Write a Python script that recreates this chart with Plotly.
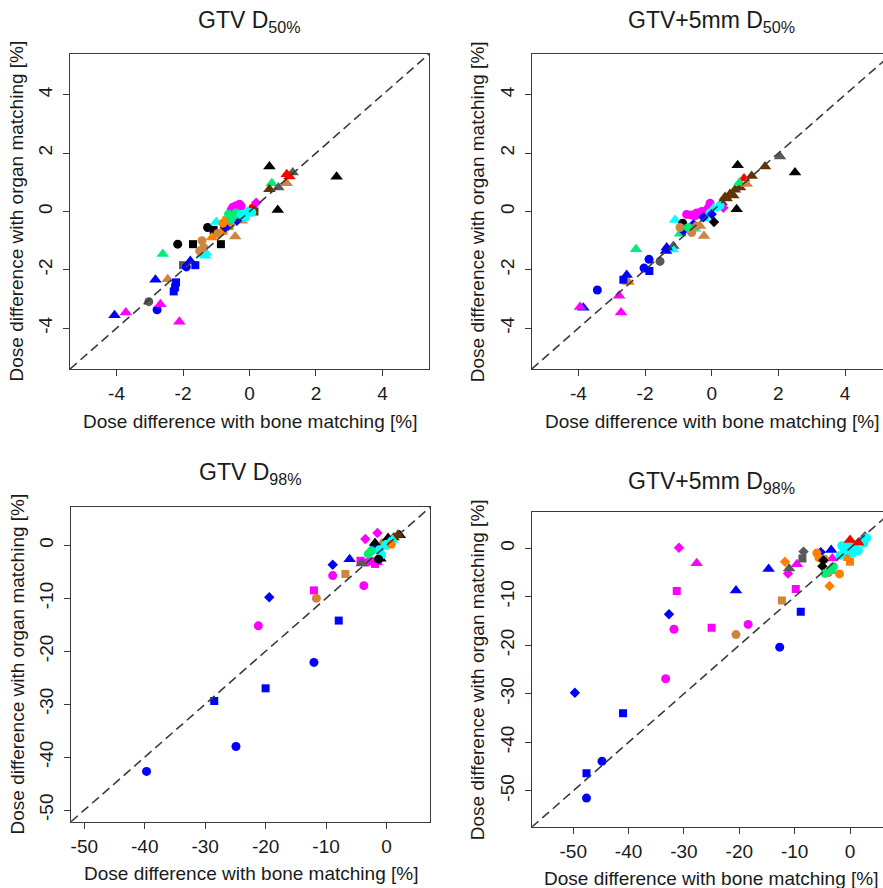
import plotly.graph_objects as go

# ---------------- data ----------------
# colour per patient group, marker per plan/session group
PATIENT_COLORS = ["#000000", "#0000FF", "#FF00FF", "#00FFFF", "#00EE76",
                  "#FF7F00", "#CD853F", "#595959", "#663300", "#FF0000"]
MARKERS = ["circle", "square", "diamond", "triangle-up"]

# Panel 1: GTV D50%
gtv50_bone = [0.6, 2.62, 0.85, 0.67, 0.6, 0.87, 1.12, 1.3, 1.12, 1.2, 0.1, 0.15,
              -2.61, -2.16, -1.7, -0.86, -1.26, -1.08, -2.0, -1.63, -1.78, -1.9,
              -2.83, -2.46, -2.21, -2.24, -2.28, -3.03, -2.68, -2.78, -4.06, -3.72, -2.11,
              -1.43, -1.33, -1.31, -1.43, -1.38, -1.5, -1.13, -0.78, -0.7, -0.43, -0.23,
              -0.95, -0.6, -1.0, -0.73, -0.38, -0.2,
              -0.55, -0.45, -0.4, -0.3, -0.25, -0.5, 0.2,
              -0.63, -0.48, -0.4, -0.55, -0.35, -0.13, 0.07, -0.25, -0.05, -0.8]
gtv50_organ = [1.54, 1.19, 0.05, 0.97, 0.76, 0.82, 0.97, 1.34, 1.28, 1.2, 0.12, 0.0,
               -1.46, -1.12, -1.12, -1.12, -0.55, -0.63, -1.84, -1.84, -1.7, -1.9,
               -2.34, -2.32, -2.43, -2.6, -2.74, -3.09, -3.18, -3.37, -3.56, -3.46, -3.78,
               -1.46, -1.52, -1.41, -1.0, -1.23, -1.35, -0.89, -0.66, -0.3, -0.86, -0.32,
               -0.75, -0.5, -0.36, -0.55, -0.32, -0.15,
               0.05, 0.1, 0.2, 0.25, 0.18, 0.15, 0.3,
               -0.09, -0.15, -0.05, -0.25, -0.1, -0.2, -0.03, -0.1, 0.0, -0.4]
gtv50_patient = [0, 0, 0, 4, 8, 7, 6, 7, 9, 9, 9, 8,
                 4, 0, 0, 0, 0, 0, 7, 1, 1, 1,
                 1, 6, 1, 1, 1, 7, 2, 1, 1, 2, 2,
                 3, 3, 3, 6, 6, 6, 5, 5, 5, 6, 6,
                 6, 6, 3, 1, 1, 1,
                 2, 2, 2, 2, 2, 2, 2,
                 4, 4, 4, 4, 4, 3, 3, 3, 3, 5]
gtv50_marker = [3, 3, 3, 3, 3, 3, 3, 3, 3, 3, 0, 1,
                3, 0, 1, 1, 0, 1, 1, 1, 3, 0,
                3, 3, 1, 1, 1, 0, 3, 0, 3, 3, 3,
                3, 3, 3, 0, 0, 0, 3, 1, 1, 3, 3,
                0, 1, 3, 2, 2, 2,
                0, 0, 0, 0, 0, 0, 2,
                0, 0, 0, 0, 1, 0, 0, 0, 2, 0]

# Panel 2: GTV+5mm D50%
ptv50_bone = [0.78, 0.75, 2.5, 1.6, 2.05, 0.97, 1.2, 0.83, 1.05,
              0.3, 0.45, 0.55, 0.65, 0.7, 0.85, 0.4,
              -0.75, -0.6, -0.45, -0.3, -0.15, -0.05, -0.1, -0.5, 0.35,
              0.25, -0.05, 0.05, 0.0, -0.55, -0.85, -0.25, 0.07,
              -1.1, -0.87, -0.95, -0.6, -0.45, -0.23, -0.35, -0.95, -0.7, -0.5, -0.2,
              -1.35, -1.15, -1.55, -1.17, -1.37, -2.27, -1.88, -2.03, -1.87, -2.55,
              -2.65, -2.5, -3.43, -2.78, -2.72, -3.95, -3.85]
ptv50_organ = [1.59, 0.08, 1.34, 1.54, 1.89, 1.13, 1.22, 0.99, 0.94,
               0.31, 0.45, 0.6, 0.55, 0.75, 0.82, 0.5,
               -0.1, -0.12, -0.05, 0.0, 0.05, 0.28, 0.12, -0.15, 0.13,
               0.2, -0.05, 0.1, -0.09, -0.44, -0.66, -0.2, -0.36,
               -0.29, -0.4, -0.55, -0.72, -0.5, -0.84, -0.5, -0.76, -0.55, -0.6, -0.25,
               -1.23, -1.18, -1.71, -1.3, -1.35, -1.29, -1.64, -1.94, -2.04, -2.18,
               -2.34, -2.42, -2.69, -2.89, -3.46, -3.27, -3.3]
ptv50_patient = [0, 0, 0, 8, 7, 9, 8, 4, 6,
                 8, 8, 8, 8, 8, 8, 8,
                 2, 2, 2, 2, 2, 2, 2, 2, 2,
                 3, 3, 3, 1, 1, 1, 1, 0,
                 3, 0, 6, 6, 6, 6, 6, 4, 4, 3, 3,
                 1, 7, 7, 3, 1, 4, 1, 1, 1, 1,
                 1, 6, 1, 2, 2, 2, 1]
ptv50_marker = [3, 3, 3, 3, 3, 3, 3, 3, 3,
                3, 3, 3, 3, 3, 3, 3,
                0, 0, 0, 0, 0, 0, 0, 0, 2,
                0, 0, 3, 2, 2, 2, 2, 2,
                3, 0, 0, 0, 0, 3, 3, 3, 0, 3, 3,
                3, 3, 0, 3, 3, 3, 0, 0, 1, 3,
                1, 3, 0, 3, 3, 3, 3]

# Panel 3: GTV D98%
gtv98_bone = [-39.7, -24.9, -12.0, -28.5, -20.0, -7.9, -21.2, -8.9, -3.75,
              -19.4, -8.9, -1.9, -12.0, -4.3, -3.5, -2.5, -1.9, -11.6, -6.8, -6.1,
              -3.5, -1.5, -2.8, -1.6, -1.9, 0.27, 2.2, -1.0, 1.9, 1.2,
              -1.5, -1.1, -0.5, 0.0, 0.5, -0.8, 1.0, -3.0, -2.5, -4.1, 0.8, -0.5, -1.3]
gtv98_organ = [-42.7, -38.0, -22.1, -29.4, -27.0, -14.2, -15.2, -5.7, -7.6,
               -9.8, -3.65, -0.3, -8.5, -2.9, -3.2, -3.0, -3.5, -10.0, -5.4, -2.6,
               1.2, 2.35, -3.0, -3.2, 0.45, 1.4, 1.9, -2.5, 2.02, 1.5,
               -1.0, -0.8, -0.3, 0.2, 0.6, -1.8, 1.0, -1.6, -1.0, -3.4, 0.2, 0.5, -2.6]
gtv98_patient = [1, 1, 1, 1, 1, 1, 2, 2, 2,
                 1, 1, 1, 2, 2, 2, 2, 2, 6, 6, 1,
                 2, 2, 2, 2, 0, 0, 0, 0, 8, 8,
                 3, 3, 3, 3, 3, 3, 3, 4, 4, 7, 5, 6, 0]
gtv98_marker = [0, 0, 0, 1, 1, 1, 0, 0, 0,
                2, 2, 2, 1, 1, 1, 1, 1, 0, 1, 3,
                2, 2, 3, 3, 3, 3, 3, 3, 3, 3,
                3, 0, 3, 0, 3, 0, 3, 0, 0, 3, 0, 0, 0]

# Panel 4: GTV+5mm D98%
ptv98_bone = [-49.7, -32.7, -5.3, -41.0, -47.6, -8.9, -44.8, -47.6, -12.7,
              -33.3, -31.8, -18.4, -31.3, -25.0, -9.8, -30.9, -11.2, -0.3,
              -27.7, -9.6, -3.2, -20.6, -3.9, -4.6, -20.6, -14.7, -3.4,
              -12.3, -11.75, -3.7, -11.0, -8.6, -8.4, 2.7, -6.0, -1.9, -5.6,
              0.0, -0.5, -5.0, -4.8, -4.5, -3.0, -3.3,
              -1.8, -1.0, 0.0, 1.0, 2.0, 3.0, 0.5, -1.5, 1.5, 2.5, -0.5, 0.0, 1.5]
ptv98_organ = [-29.8, -13.6, -0.8, -34.0, -46.4, -13.1, -43.9, -51.5, -20.4,
               -26.9, -16.7, -15.7, -8.8, -16.4, -8.4, 0.1, -5.2, 0.7,
               -3.1, -3.3, -2.1, -17.8, -5.0, -2.3, -8.7, -4.3, -0.35,
               -10.8, -2.8, -7.8, -4.2, -2.1, -0.7, 2.4, -1.0, -5.3, -2.0,
               -2.8, -1.8, -3.7, -2.5, -5.2, -3.8, -4.5,
               -1.5, -0.5, 0.3, 0.8, 1.5, 2.1, -1.0, 0.5, -0.5, 1.0, 1.0, 1.7, 1.2]
ptv98_patient = [1, 1, 1, 1, 1, 1, 1, 1, 1,
                 2, 2, 2, 2, 2, 2, 2, 2, 2,
                 2, 2, 2, 6, 6, 6, 1, 1, 1,
                 6, 5, 5, 7, 7, 7, 7, 5, 5, 5,
                 5, 5, 0, 0, 4, 4, 4,
                 3, 3, 3, 3, 3, 3, 3, 3, 3, 3, 3, 9, 9]
ptv98_marker = [2, 2, 2, 1, 1, 1, 0, 0, 0,
                0, 0, 0, 1, 1, 1, 2, 2, 2,
                3, 3, 3, 0, 0, 0, 3, 3, 3,
                1, 2, 2, 3, 1, 2, 2, 0, 0, 0,
                1, 1, 2, 2, 0, 0, 1,
                0, 0, 0, 0, 0, 0, 0, 0, 0, 0, 2, 3, 3]

TITLES = ["GTV D<sub>50%</sub>", "GTV+5mm D<sub>50%</sub>",
          "GTV D<sub>98%</sub>", "GTV+5mm D<sub>98%</sub>"]
X_LABEL = "Dose difference with bone matching [%]"
Y_LABEL = "Dose difference with organ matching [%]"
TICKS_50 = [-4, -2, 0, 2, 4]
TICKS_98 = [-50, -40, -30, -20, -10, 0]

# ---------------- layout helpers ----------------
W, H = 883, 888
FONT = "Liberation Sans, Arial, sans-serif"
TXT = "#1a1a1a"
AX = "#3a3a3a"

# panel pixel boxes: left, right, top, bottom ; axis ranges
panels = [
    dict(bone=gtv50_bone, organ=gtv50_organ, pat=gtv50_patient, mk=gtv50_marker,
         box=(70, 429, 54, 369), xr=(-5.4, 5.4), yr=(-5.4, 5.4), ticks=TICKS_50,
         full_right=429, title_y=22),
    dict(bone=ptv50_bone, organ=ptv50_organ, pat=ptv50_patient, mk=ptv50_marker,
         box=(531.7, 883, 54, 369), xr=(-5.4, 5.14), yr=(-5.4, 5.4), ticks=TICKS_50,
         full_right=891.5, title_y=22),
    dict(bone=gtv98_bone, organ=gtv98_organ, pat=gtv98_patient, mk=gtv98_marker,
         box=(71, 430, 507.3, 821.7), xr=(-52.2, 7.2), yr=(-52.2, 7.2), ticks=TICKS_98,
         full_right=430, title_y=473),
    dict(bone=ptv98_bone, organ=ptv98_organ, pat=ptv98_patient, mk=ptv98_marker,
         box=(531.7, 883, 512.3, 826.7), xr=(-57.5, 5.96), yr=(-57.4, 7.4), ticks=TICKS_98,
         full_right=891, title_y=482),
]

MARKER_SIZE = {"circle": 9, "square": 8, "diamond": 8, "triangle-up": 11}

fig = go.Figure()
annotations = []
layout_axes = {}

for i, p in enumerate(panels):
    n = "" if i == 0 else str(i + 1)
    xa, ya = "x" + n, "y" + n
    l, r, t, b = p["box"]
    groups = {}
    for xv, yv, pc, mk in zip(p["bone"], p["organ"], p["pat"], p["mk"]):
        groups.setdefault((pc, mk), ([], []))
        groups[(pc, mk)][0].append(xv)
        groups[(pc, mk)][1].append(yv)
    for (pc, mk), (gx, gy) in groups.items():
        sym = MARKERS[mk]
        fig.add_trace(go.Scatter(
            x=gx, y=gy, mode="markers", xaxis=xa, yaxis=ya, showlegend=False,
            marker=dict(color=PATIENT_COLORS[pc], symbol=sym, size=MARKER_SIZE[sym],
                        line=dict(width=0)),
            hoverinfo="x+y"))
    # identity line y = x across the full axis range
    lo = min(p["xr"][0], p["yr"][0])
    hi = max(p["xr"][1], p["yr"][1])
    fig.add_trace(go.Scatter(
        x=[lo, hi], y=[lo, hi], mode="lines", xaxis=xa, yaxis=ya, showlegend=False,
        line=dict(color="#3c3c3c", width=1.6, dash="9px,5px"), hoverinfo="skip"))

    right_open = r >= W
    tickfont = dict(family=FONT, size=19, color=TXT)
    layout_axes["xaxis" + n] = dict(
        domain=[l / W, min(r / W, 1.0)], range=list(p["xr"]), anchor=ya,
        showgrid=False, zeroline=False, showline=True, mirror=True,
        linecolor=AX, linewidth=1, ticks="outside", ticklen=6, tickcolor=AX,
        tickvals=p["ticks"], ticktext=[str(v) for v in p["ticks"]],
        tickfont=tickfont, ticklabelstandoff=1, fixedrange=True)
    layout_axes["yaxis" + n] = dict(
        domain=[1 - b / H, 1 - t / H], range=list(p["yr"]), anchor=xa,
        showgrid=False, zeroline=False, showline=True,
        mirror=(False if right_open else True),
        linecolor=AX, linewidth=1, ticks="outside", ticklen=6, tickcolor=AX,
        tickvals=p["ticks"], ticktext=[str(v) for v in p["ticks"]],
        tickangle=-90, tickfont=tickfont, ticklabelstandoff=3, fixedrange=True)

    cx = (l + p["full_right"]) / 2
    cy = (t + b) / 2
    annotations.append(dict(
        text=TITLES[i], x=cx / W, y=1 - p["title_y"] / H, xref="paper", yref="paper",
        xanchor="center", yanchor="middle", showarrow=False,
        font=dict(family=FONT, size=23, color=TXT)))
    annotations.append(dict(
        text=X_LABEL, x=cx / W, y=1 - (b + 52) / H, xref="paper", yref="paper",
        xanchor="center", yanchor="middle", showarrow=False,
        font=dict(family=FONT, size=19, color=TXT)))
    annotations.append(dict(
        text=Y_LABEL, x=(l - 54) / W, y=1 - cy / H, xref="paper", yref="paper",
        xanchor="center", yanchor="middle", showarrow=False, textangle=-90,
        font=dict(family=FONT, size=19, color=TXT)))

fig.update_layout(
    width=W, height=H, autosize=False,
    margin=dict(l=0, r=0, t=0, b=0),
    paper_bgcolor="white", plot_bgcolor="white",
    annotations=annotations, **layout_axes)

fig.write_html("out.html", config={"displayModeBar": False},
               post_script="document.body.style.margin='0';document.body.style.overflow='hidden';")
